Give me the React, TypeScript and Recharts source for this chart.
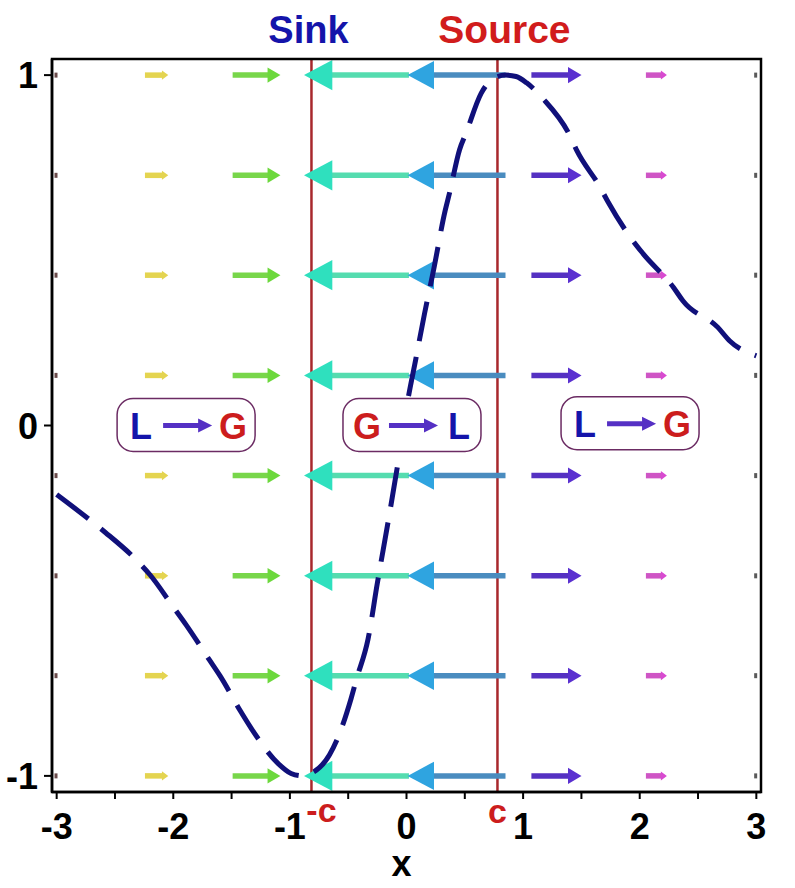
import React from 'react';
import { ComposedChart, Line, XAxis, YAxis, ReferenceLine, ReferenceDot, ReferenceArea } from 'recharts';

// dashed curve
const curveX = [-3.0, -2.71, -2.58, -2.31, -2.2, -2.0, -1.89, -1.69, -1.6, -1.42, -1.33, -1.1, -0.99, -0.89, -0.82, -0.66, -0.6, -0.475, -0.43, -0.33, -0.25, -0.15, -0.06, 0.01, 0.08, 0.155, 0.23, 0.33, 0.37, 0.455, 0.51, 0.64, 0.74, 0.85, 0.94, 1.03, 1.17, 1.4, 1.46, 1.66, 1.73, 1.94, 2.03, 2.29, 2.37, 2.67, 2.77, 3.0];
const curveY = [-0.197, -0.271, -0.306, -0.386, -0.426, -0.518, -0.569, -0.669, -0.714, -0.817, -0.865, -0.965, -0.993, -1.0, -0.993, -0.94, -0.9, -0.779, -0.725, -0.61, -0.45, -0.26, -0.08, 0.07, 0.19, 0.32, 0.44, 0.611, 0.665, 0.787, 0.834, 0.948, 0.989, 1.0, 0.996, 0.978, 0.933, 0.828, 0.785, 0.68, 0.637, 0.528, 0.49, 0.394, 0.356, 0.28, 0.242, 0.199];

// vector field grid
const fieldX = [-3, -2.143, -1.286, -0.429, 0.429, 1.286, 2.143, 3];
const fieldY = [-1, -0.714, -0.429, -0.143, 0.143, 0.429, 0.714, 1];
const fieldU = [0.02, 0.2, 0.41, -0.9, -0.84, 0.43, 0.18, 0.02];
const fieldShaft = ['#6b4b4b', '#e4d450', '#78d64a', '#55dcaf', '#4a8cbf', '#5531c2', '#cf55c5', '#5a5a5a'];
const fieldHead = ['#6b4b4b', '#e4d450', '#6cd83c', '#2fe0be', '#2fa4e0', '#5a30d0', '#d84ad0', '#5a5a5a'];

// axes
const xTicks = [-3, -2.5, -2, -1.5, -1, -0.5, 0, 0.5, 1, 1.5, 2, 2.5, 3];
const yTicks = [-1, 0, 1];
const xDomain = [-3.04, 3.04];
const yDomain = [-1.046, 1.046];

// sink / source
const sinkX = -0.815;
const sourceX = 0.78;
const sinkLabel = 'Sink';
const sourceLabel = 'Source';
const sinkTick = '-c';
const sourceTick = 'c';

// boxes
const boxX = [-1.89, 0.047, 1.917];
const boxY = [0, 0, 0.005];
const boxLeft = ['L', 'G', 'L'];
const boxRight = ['G', 'L', 'G'];

const FONT = '"Liberation Sans", Arial, sans-serif';
const BLUE = '#1414aa';
const RED = '#cc1d1d';
const letterColor = (s: string) => (s === 'L' ? BLUE : RED);

const curveData = curveX.map((x, i) => ({ x, y: curveY[i] }));

const arrowShape = (shaft: string, head: string) => (p: any) => {
  const { x1, y1, x2, y2 } = p;
  const len = Math.abs(x2 - x1);
  const dir = x2 >= x1 ? 1 : -1;
  if (len < 6) {
    return <rect x={Math.min(x1, x2) - 1} y={y1 - 2.5} width={Math.max(len, 3)} height={5} fill={shaft} />;
  }
  const hl = Math.max(6, 0.27 * len);
  const hw = Math.max(4.5, 0.13 * len + 1.5);
  const bx = x2 - dir * hl;
  return (
    <g>
      <line x1={x1} y1={y1} x2={bx + dir * 1} y2={y2} stroke={shaft} strokeWidth={5.5} />
      <polygon points={`${x2},${y2} ${bx},${y2 - hw} ${bx},${y2 + hw}`} fill={head} />
    </g>
  );
};

const boxShape = (left: string, right: string) => (p: any) => {
  const { cx, cy } = p;
  return (
    <g>
      <rect x={cx - 69} y={cy - 27} width={138} height={53} rx={16} ry={16} fill="#fff" stroke="#6b2b63" strokeWidth={1.5} />
      <text x={cx - 45} y={cy + 13} textAnchor="middle" fontSize={36} fontWeight="bold" fontFamily={FONT} fill={letterColor(left)}>{left}</text>
      <line x1={cx - 23} y1={cy} x2={cx + 13} y2={cy} stroke="#5530c4" strokeWidth={5} />
      <polygon points={`${cx + 26},${cy} ${cx + 12},${cy - 7} ${cx + 12},${cy + 7}`} fill="#5530c4" />
      <text x={cx + 47} y={cy + 13} textAnchor="middle" fontSize={36} fontWeight="bold" fontFamily={FONT} fill={letterColor(right)}>{right}</text>
    </g>
  );
};

const textShape = (label: string, color: string, dx: number, dy: number, size: number) => (p: any) => {
  const { cx, cy } = p;
  return (
    <text x={cx + dx} y={cy + dy} textAnchor="middle" fontSize={size} fontWeight="bold" fontFamily={FONT} fill={color}>{label}</text>
  );
};

const XTick = (p: any) => {
  const { x, y, payload } = p;
  const v = payload.value;
  if (!Number.isInteger(v)) return <g />;
  return (
    <text x={x} y={y + 40} textAnchor="middle" fontSize={36} fontWeight="bold" fontFamily={FONT} fill="#000">{String(v)}</text>
  );
};

const YTick = (p: any) => {
  const { x, y, payload } = p;
  return (
    <text x={x} y={y + 13} textAnchor="end" fontSize={36} fontWeight="bold" fontFamily={FONT} fill="#000">{String(payload.value)}</text>
  );
};

export default function App() {
  const arrows: any[] = [];
  fieldX.forEach((fx, i) => {
    fieldY.forEach((fy, j) => {
      const u = fieldU[i];
      arrows.push(
        <ReferenceLine
          key={`a-${i}-${j}`}
          segment={[{ x: fx - u / 2, y: fy }, { x: fx + u / 2, y: fy }]}
          ifOverflow="visible"
          zIndex={350}
          shape={arrowShape(fieldShaft[i], fieldHead[i])}
        />
      );
    });
  });

  return (
    <div>
      <style>{'body{margin:0;background:#fff}'}</style>
      <ComposedChart width={795} height={888} data={curveData} margin={{ top: 59, right: 34, bottom: 0, left: 0 }}>
        <XAxis
          dataKey="x"
          type="number"
          domain={xDomain}
          allowDataOverflow
          ticks={xTicks}
          interval={0}
          tick={XTick}
          tickSize={7}
          tickMargin={0}
          tickLine={{ stroke: '#000', strokeWidth: 2 }}
          axisLine={{ stroke: '#000', strokeWidth: 2.5 }}
          height={96}
          label={{ value: 'x', position: 'insideBottom', offset: 12, dx: -5, fill: '#000', fontSize: 36, fontWeight: 'bold', fontFamily: FONT }}
        />
        <YAxis
          type="number"
          domain={yDomain}
          allowDataOverflow
          ticks={yTicks}
          interval={0}
          tick={YTick}
          tickSize={8}
          tickMargin={6}
          tickLine={{ stroke: '#000', strokeWidth: 2 }}
          axisLine={{ stroke: '#000', strokeWidth: 2.5 }}
          width={52}
        />

        <ReferenceLine x={sinkX} stroke="#a8282c" strokeWidth={2.5} zIndex={300} />
        <ReferenceLine x={sourceX} stroke="#a8282c" strokeWidth={2.5} zIndex={300} />

        {arrows}

        <Line
          dataKey="y"
          type="monotone"
          stroke="#10107a"
          strokeWidth={5}
          strokeDasharray="40 16"
          dot={false}
          activeDot={false}
          isAnimationActive={false}
        />

        <ReferenceArea
          x1={xDomain[0]}
          x2={xDomain[1]}
          y1={yDomain[0]}
          y2={yDomain[1]}
          ifOverflow="visible"
          fill="none"
          fillOpacity={0}
          stroke="#000"
          strokeWidth={2.5}
          zIndex={650}
        />

        {boxX.map((bx, i) => (
          <ReferenceDot key={`b-${i}`} x={bx} y={boxY[i]} ifOverflow="visible" zIndex={700} shape={boxShape(boxLeft[i], boxRight[i])} />
        ))}

        <ReferenceDot x={sinkX} y={yDomain[1]} ifOverflow="visible" zIndex={700} shape={textShape(sinkLabel, BLUE, -3, -16, 38)} />
        <ReferenceDot x={sourceX} y={yDomain[1]} ifOverflow="visible" zIndex={700} shape={textShape(sourceLabel, '#d11c1c', 7, -16, 39)} />
        <ReferenceDot x={sinkX} y={yDomain[0]} ifOverflow="visible" zIndex={700} shape={textShape(sinkTick, RED, 10, 30, 34)} />
        <ReferenceDot x={sourceX} y={yDomain[0]} ifOverflow="visible" zIndex={700} shape={textShape(sourceTick, RED, 0, 31, 34)} />
      </ComposedChart>
    </div>
  );
}
